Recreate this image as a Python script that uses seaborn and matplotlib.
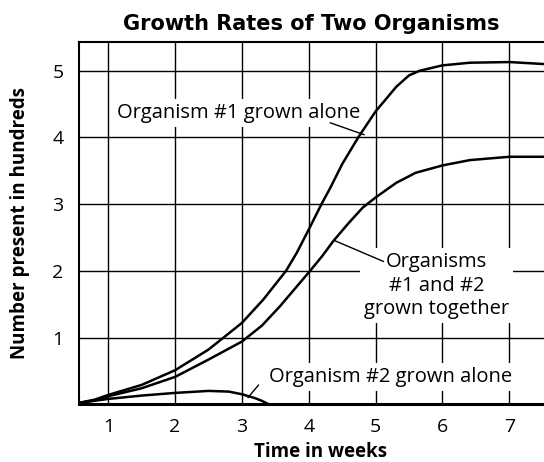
import pandas as pd
import matplotlib
matplotlib.use("Agg")
import matplotlib.pyplot as plt
import seaborn as sns

# datos (semanas, cientos de organismos)
semanas_1 = [0.56, 0.8, 1.0, 1.5, 2.0, 2.5, 3.0, 3.32, 3.66, 3.82, 4.0, 4.19, 4.32, 4.5,
             4.74, 5.0, 5.31, 5.5, 5.66, 6.0, 6.41, 7.0, 7.52]
org1_solo = [0.02, 0.07, 0.14, 0.29, 0.51, 0.82, 1.22, 1.57, 2.0, 2.27, 2.62, 3.0, 3.24, 3.6,
             4.0, 4.39, 4.76, 4.93, 5.0, 5.08, 5.12, 5.13, 5.1]

semanas_12 = [0.56, 0.8, 1.0, 1.5, 2.0, 2.5, 3.0, 3.3, 3.57, 4.02, 4.2, 4.37, 4.6, 4.81, 5.0, 5.31,
              5.6, 6.0, 6.41, 7.0, 7.52]
org12_juntos = [0.02, 0.06, 0.12, 0.24, 0.41, 0.67, 0.94, 1.18, 1.47, 2.0, 2.22, 2.45, 2.72, 2.95, 3.1, 3.32,
                3.47, 3.58, 3.66, 3.71, 3.71]

semanas_2 = [0.56, 1.0, 1.5, 2.0, 2.5, 2.8, 3.0, 3.2, 3.3, 3.4]
org2_solo = [0.02, 0.08, 0.13, 0.17, 0.2, 0.19, 0.15, 0.09, 0.05, 0.0]

xticks = [1, 2, 3, 4, 5, 6, 7]
yticks = [1, 2, 3, 4, 5]

sns.set_style("white")
plt.rcParams['font.family'] = ['Open Sans', 'DejaVu Sans']
plt.rcParams['text.color'] = 'black'
plt.rcParams['axes.labelcolor'] = 'black'
plt.rcParams['xtick.color'] = 'black'
plt.rcParams['ytick.color'] = 'black'

fig = plt.figure(figsize=(5.44, 4.62), dpi=100)
ax = fig.add_axes([0.145, 0.125, 0.855, 0.784])

df1 = pd.DataFrame({"x": semanas_1, "y": org1_solo})
df12 = pd.DataFrame({"x": semanas_12, "y": org12_juntos})
df2 = pd.DataFrame({"x": semanas_2, "y": org2_solo})
for d in [df1, df12, df2]:
    sns.lineplot(data=d, x="x", y="y", color="black", linewidth=1.8, ax=ax, zorder=5)

ax.set_xlim(0.56, 7.52)
ax.set_ylim(0, 5.43)
ax.set_xticks(xticks)
ax.set_yticks(yticks)
ax.tick_params(length=0, labelsize=14)
ax.tick_params(axis="x", pad=10)
ax.tick_params(axis="y", pad=11)
ax.grid(True, color="black", linewidth=1)
ax.set_axisbelow(True)

for s in ["left", "top"]:
    ax.spines[s].set_color("black")
    ax.spines[s].set_linewidth(1.5)
ax.spines["bottom"].set_color("black")
ax.spines["bottom"].set_linewidth(2.2)
ax.spines["right"].set_visible(False)

ax.set_xlabel("Time in weeks", fontsize=13.5, fontweight="bold")
ax.xaxis.set_label_coords(0.52, -0.105)
ax.set_ylabel("Number present in hundreds", fontsize=13.5, fontweight="bold", labelpad=16)
ax.set_title("Growth Rates of Two Organisms", fontsize=15, fontweight="bold",
             family=["DejaVu Sans"], pad=9)

caja = dict(facecolor="white", edgecolor="none", pad=3)
ax.text(2.95, 4.37, "Organism #1 grown alone", fontsize=14.5, ha="center", va="center", bbox=caja, zorder=3)
ax.plot([4.32, 4.83], [4.22, 4.04], color="black", lw=1, zorder=4)

ax.text(5.91, 1.78, "Organisms\n#1 and #2\ngrown together", fontsize=14.5, ha="center", va="center",
        linespacing=1.25, bbox=caja, zorder=3)
ax.plot([4.37, 5.12], [2.46, 2.14], color="black", lw=1, zorder=4)

ax.text(5.22, 0.41, "Organism #2 grown alone", fontsize=14.5, ha="center", va="center", bbox=caja, zorder=3)
ax.plot([3.25, 3.09], [0.29, 0.10], color="black", lw=1, zorder=4)

plt.savefig("out.png", dpi=100)
